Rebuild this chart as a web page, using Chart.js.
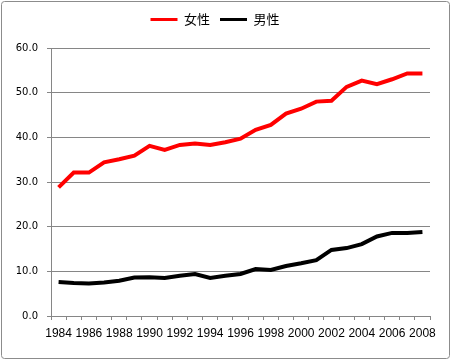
<!DOCTYPE html>
<html><head><meta charset="utf-8">
<script src="https://cdn.jsdelivr.net/npm/chart.js@4/dist/chart.umd.min.js"></script>
<style>html,body{margin:0;padding:0;background:#fff;}#wrap{width:452px;height:361px;}</style>
</head><body><div id="wrap"><canvas id="c" width="452" height="361"></canvas></div>
<script>
const years = ['1984','1985','1986','1987','1988','1989','1990','1991','1992','1993','1994','1995','1996','1997','1998','1999','2000','2001','2002','2003','2004','2005','2006','2007','2008'];
const women = [28.8,32.1,32.1,34.4,35.1,35.9,38.1,37.2,38.3,38.6,38.3,38.9,39.7,41.7,42.8,45.3,46.4,48.0,48.2,51.3,52.7,51.9,53.0,54.3,54.3];
const men = [7.6,7.4,7.3,7.5,7.9,8.6,8.7,8.5,9.0,9.4,8.5,9.0,9.4,10.5,10.3,11.2,11.8,12.5,14.8,15.2,16.1,17.8,18.6,18.6,18.8];
const seriesNames = ['女性','男性'];
const yTicks = [0,10,20,30,40,50,60];

const borderPlugin = {
  id:'frame',
  beforeLayout(chart){
    const lg = chart.legend;
    if (lg && !lg._patched){
      const orig = lg.fit;
      lg.fit = function(){ orig.call(this); this.height += 12; };
      lg._patched = true;
    }
  },
  afterDraw(chart){
    const ctx = chart.ctx;
    ctx.save();
    ctx.strokeStyle = '#8c8c8c';
    ctx.lineWidth = 1;
    ctx.beginPath();
    if (ctx.roundRect) ctx.roundRect(1.5,1.5,448,357,3); else ctx.rect(1.5,1.5,448,357);
    ctx.stroke();
    ctx.restore();
  }
};

new Chart(document.getElementById('c'), {
  type:'line',
  data:{
    labels: years,
    datasets:[
      {label:seriesNames[0], data:women, borderColor:'#ff0000', backgroundColor:'#ff0000', borderWidth:4, pointRadius:0, tension:0},
      {label:seriesNames[1], data:men, borderColor:'#000000', backgroundColor:'#000000', borderWidth:4, pointRadius:0, tension:0}
    ]
  },
  options:{
    responsive:false, animation:false,
    layout:{padding:{left:0,right:22,top:3,bottom:0}},
    plugins:{
      tooltip:{enabled:false},
      legend:{
        position:'top',
        labels:{
          font:{family:'"Noto Sans CJK JP", sans-serif', size:13},
          color:'#000',
          boxWidth:27, boxHeight:3, padding:10,
          generateLabels(chart){
            const items = Chart.defaults.plugins.legend.labels.generateLabels(chart);
            items.forEach(it=>{ it.lineWidth=0; it.fillStyle=it.strokeStyle; });
            return items;
          }
        }
      }
    },
    scales:{
      x:{
        offset:true,
        grid:{display:true, drawOnChartArea:false, drawTicks:true, tickLength:4, offset:true, color:'#868686'},
        border:{color:'#868686'},
        ticks:{
          autoSkip:false, maxRotation:0, padding:6, color:'#000',
          font:{family:'"Liberation Sans", sans-serif', size:12},
          callback(v,i){ return i%2===0 ? years[i] : ''; }
        },
        afterFit(s){ s.height = 45; }
      },
      y:{
        min:0, max:60,
        afterBuildTicks(s){ s.ticks = yTicks.map(v=>({value:v})); },
        grid:{color:'#868686', tickLength:4, drawTicks:true},
        border:{color:'#868686'},
        ticks:{
          padding:9, color:'#000',
          font:{family:'"DejaVu Sans", sans-serif', size:10},
          callback(v){ return Number(v).toFixed(1); }
        },
        afterFit(s){ s.width = 51; }
      }
    }
  },
  plugins:[borderPlugin]
});
</script>
</body></html>
